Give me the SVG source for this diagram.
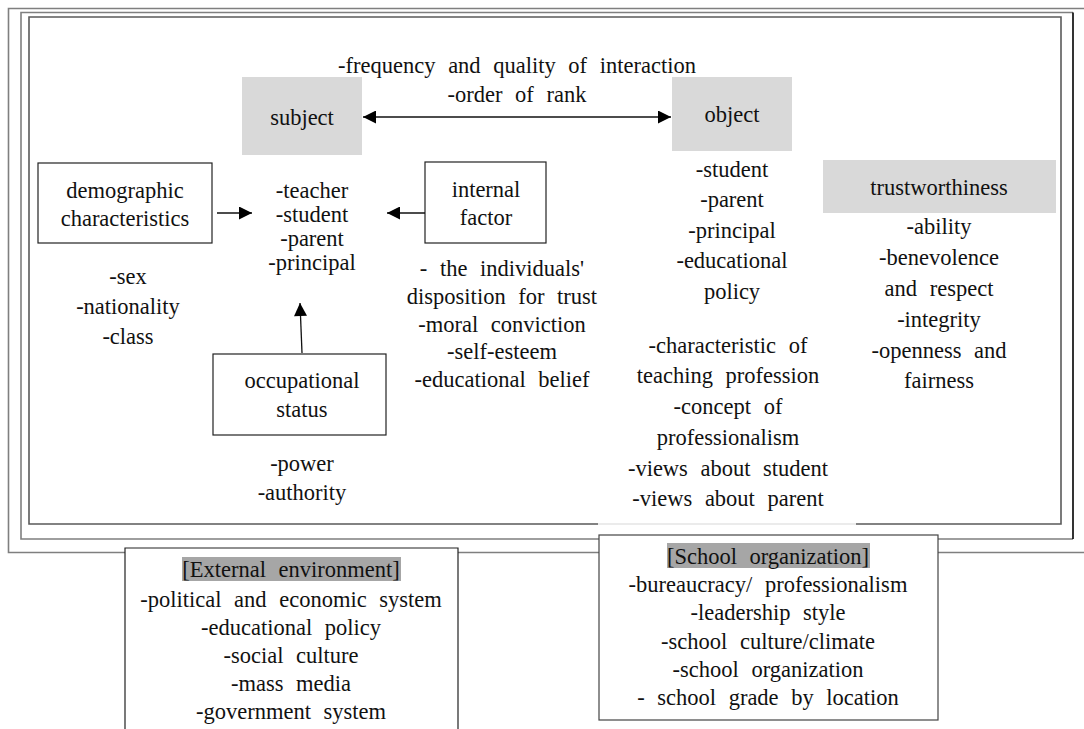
<svg xmlns="http://www.w3.org/2000/svg" width="1084" height="729" viewBox="0 0 1084 729" font-family="'Liberation Serif', Tinos, 'Times New Roman', Times, 'DejaVu Serif', serif">
<style>
text{font-family:'Liberation Serif',Tinos,'Times New Roman',Times,'DejaVu Serif',serif;font-size:22.5px;fill:#111;text-anchor:middle;word-spacing:7px}
.box{fill:#fff;stroke:#222;stroke-width:1.2}
.gray{fill:#d9d9d9}
.hl{fill:#a6a6a6}
.fr{fill:none;stroke:#7f7f7f;stroke-width:1.6}
.con{stroke:#111;stroke-width:1.3;fill:none}
</style>
<defs>
<marker id="ah" viewBox="0 0 10 10" refX="10" refY="5" markerWidth="15" markerHeight="13" markerUnits="userSpaceOnUse" orient="auto-start-reverse">
<path d="M0,0 L10,5 L0,10 Z" fill="#000"/>
</marker>
</defs>
<rect width="1084" height="729" fill="#fff"/>
<g id="frames">
<path class="fr" d="M1084,8.5 H8.5 V552.5 H1084"/>
<path class="fr" d="M1073,539 H21 V12.5 H1073"/>
<path d="M1073,12.5 V539" stroke="#000" stroke-width="1.6" fill="none"/>
<path d="M598,524 H29 V17 H1061 V524 H856" fill="none" stroke="#5a5a5a" stroke-width="1.6"/>
<path d="M598,524 H856" fill="none" stroke="#d8d8d8" stroke-width="1.2"/>
</g>
<g id="interaction-label">
<text x="517" y="73">-frequency and quality of interaction</text>
<text x="517" y="102">-order of rank</text>
</g>
<g id="subject">
<rect class="gray" x="242" y="77" width="120" height="78"/>
<text x="302" y="125">subject</text>
</g>
<g id="object">
<rect class="gray" x="672" y="77" width="120" height="74"/>
<text x="732" y="122">object</text>
</g>
<g id="demographic">
<rect class="box" x="38" y="163" width="174" height="80"/>
<text x="125" y="198">demographic</text>
<text x="125" y="226">characteristics</text>
</g>
<g id="demographic-list">
<text x="128" y="284">-sex</text>
<text x="128" y="314">-nationality</text>
<text x="128" y="344">-class</text>
</g>
<g id="subject-list">
<text x="312" y="198">-teacher</text>
<text x="312" y="222">-student</text>
<text x="312" y="246">-parent</text>
<text x="312" y="270">-principal</text>
</g>
<g id="internal">
<rect class="box" x="425" y="162" width="121" height="81"/>
<text x="486" y="197">internal</text>
<text x="486" y="225">factor</text>
</g>
<g id="internal-list">
<text x="502" y="276">- the individuals'</text>
<text x="502" y="304">disposition for trust</text>
<text x="502" y="332">-moral conviction</text>
<text x="502" y="359">-self-esteem</text>
<text x="502" y="387">-educational belief</text>
</g>
<g id="occupational">
<rect class="box" x="213" y="354" width="173" height="81"/>
<text x="302" y="388">occupational</text>
<text x="302" y="417">status</text>
</g>
<g id="occupational-list">
<text x="302" y="471">-power</text>
<text x="302" y="500">-authority</text>
</g>
<g id="object-list">
<text x="732" y="177">-student</text>
<text x="732" y="207">-parent</text>
<text x="732" y="238">-principal</text>
<text x="732" y="268">-educational</text>
<text x="732" y="299">policy</text>
</g>
<g id="object-views">
<text x="728" y="353">-characteristic of</text>
<text x="728" y="383">teaching profession</text>
<text x="728" y="414">-concept of</text>
<text x="728" y="445">professionalism</text>
<text x="728" y="476">-views about student</text>
<text x="728" y="506">-views about parent</text>
</g>
<g id="trustworthiness">
<rect class="gray" x="823" y="160" width="233" height="53"/>
<text x="939" y="195">trustworthiness</text>
<text x="939" y="234">-ability</text>
<text x="939" y="265">-benevolence</text>
<text x="939" y="296">and respect</text>
<text x="939" y="327">-integrity</text>
<text x="939" y="358">-openness and</text>
<text x="939" y="388">fairness</text>
</g>
<g id="external-environment">
<path d="M125,729 V548 H458 V729 Z" fill="#fff" stroke="none"/>
<path d="M125,729 V548 H458 V729" fill="none" stroke="#222" stroke-width="1.2"/>
<rect class="hl" x="182" y="557" width="219" height="24"/>
<text x="291" y="577">[External environment]</text>
<text x="291" y="607">-political and economic system</text>
<text x="291" y="635">-educational policy</text>
<text x="291" y="663">-social culture</text>
<text x="291" y="691">-mass media</text>
<text x="291" y="719">-government system</text>
</g>
<g id="school-organization">
<rect x="599" y="535" width="339" height="185" fill="#fff" stroke="#444" stroke-width="1.2"/>
<rect class="hl" x="667" y="543" width="203" height="25"/>
<text x="768" y="564">[School organization]</text>
<text x="768" y="592">-bureaucracy/ professionalism</text>
<text x="768" y="620">-leadership style</text>
<text x="768" y="649">-school culture/climate</text>
<text x="768" y="677">-school organization</text>
<text x="768" y="705">- school grade by location</text>
</g>
<g id="connectors">
<line class="con" x1="363" y1="117" x2="671" y2="117" marker-start="url(#ah)" marker-end="url(#ah)"/>
<line class="con" x1="217" y1="213" x2="252" y2="213" marker-end="url(#ah)"/>
<line class="con" x1="425" y1="213" x2="387" y2="213" marker-end="url(#ah)"/>
<line class="con" x1="302" y1="353" x2="300" y2="303" marker-end="url(#ah)"/>
</g>
</svg>
